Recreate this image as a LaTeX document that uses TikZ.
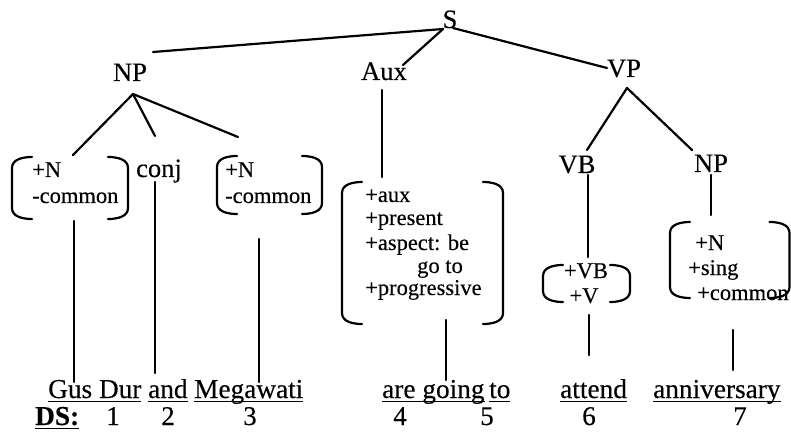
\documentclass[tikz,border=0pt]{standalone}
\usepackage{fontspec}
\setmainfont{Liberation Serif}[FakeBold=0.25]
\newcommand{\myul}[1]{\sbox0{#1}\rlap{\rule[-4pt]{\wd0}{1.4pt}}\usebox0}
\newcommand{\featbox}[5]{% name, left, right, top, bottom
  \draw[brk] (#2+20,#4) to[out=180,in=90] (#2,#4+11) -- (#2,#5-11) to[out=-90,in=180] (#2+20,#5);
  \draw[brk] (#3-20,#4) to[out=0,in=90] (#3,#4+11) -- (#3,#5-11) to[out=-90,in=0] (#3-20,#5);
  \coordinate (#1) at ({(#2+#3)/2},{(#4+#5)/2});
}
\tikzset{
  lab/.style={font=\fontsize{26.5}{30}\selectfont, inner sep=0pt, anchor=base},
  word/.style={font=\fontsize{27.3}{30}\selectfont, inner sep=0pt, anchor=base west},
  num/.style={font=\fontsize{27}{30}\selectfont, inner sep=0pt, anchor=base},
  feat/.style={font=\fontsize{22.5}{26}\selectfont, inner sep=0pt, anchor=base west},
  featc/.style={feat, anchor=base},
  branch/.style={line width=2.2pt, line cap=round},
  brk/.style={line width=2.2pt, line cap=round},
}
\begin{document}
\begin{tikzpicture}[x=1pt,y=-1pt]
\fill[white] (0,0) rectangle (791,438);
\useasboundingbox (0,0) rectangle (791,438);

% tree labels
\node[lab] (S) at (450,28) {S};
\node[lab] (NP) at (130,81) {NP};
\node[lab] (Aux) at (384,80) {Aux};
\node[lab] (VP) at (624,77) {VP};
\node[lab] (VB) at (577,173) {VB};
\node[lab] (NPb) at (711,172) {NP};
\node[lab] (conj) at (159,177) {conj};

% feature boxes
\featbox{boxA}{12}{128}{157}{219}
\node[feat] (fA1) at (32,177) {+N};
\node[feat] (fA2) at (32,203) {-common};

\featbox{boxB}{217}{322}{156}{214}
\node[feat] (fB1) at (225,177) {+N};
\node[feat] (fB2) at (225,203) {-common};

\featbox{boxC}{342}{503}{182}{324}
\node[feat] (fC1) at (365,202) {+aux};
\node[feat] (fC2) at (365,225) {+present};
\node[feat] (fC3) at (365,250) {+aspect: be};
\node[feat] (fC4) at (417,273) {go to};
\node[feat] (fC5) at (365,295) {+progressive};

\featbox{boxD}{543}{630}{265}{302}
\node[featc] (fD1) at (586,278) {+VB};
\node[featc] (fD2) at (584,303) {+V};

\featbox{boxE}{670}{789.5}{222}{298}
\node[feat] (fE1) at (695,250) {+N};
\node[feat] (fE2) at (688,275) {+sing};
\node[feat] (fE3) at (697,300) {+common};

% words
\node[word] (w1) at (48,398) {\myul{Gus Dur}};
\node[word] (w2) at (148,398) {\myul{and}};
\node[word] (w3) at (194,398) {\myul{Megawati}};
\node[word] (w4) at (382,398) {\myul{are going}};
\node[word] (w5) at (489,398) {\myul{to}};
\node[word] (w6) at (560,398) {\myul{attend}};
\node[word] (w7) at (653,398) {\myul{anniversary}};

% DS numbers
\node[word] (DS) at (35,425) {\myul{\bfseries DS:}};
\node[num] (n1) at (113,425) {1};
\node[num] (n2) at (168,425) {2};
\node[num] (n3) at (250,425) {3};
\node[num] (n4) at (400,425) {4};
\node[num] (n5) at (487,425) {5};
\node[num] (n6) at (589,425) {6};
\node[num] (n7) at (740,425) {7};

% connector end points
\coordinate (sL) at (443,29);
\coordinate (sR) at (453,28);
\coordinate (npTop) at (153,52);
\coordinate (auxTop) at (403,65);
\coordinate (vpTop) at (607,68);
\coordinate (npJ) at (133,94);
\coordinate (aBr) at (73,155);
\coordinate (cjTop) at (155,136);
\coordinate (bBr) at (238,137);
\coordinate (auxB) at (382,90);
\coordinate (cTop) at (382,177);
\coordinate (vpJ) at (627,88);
\coordinate (vbTop) at (587,150);
\coordinate (np2Top) at (692,150);
\coordinate (vbB) at (588,175);
\coordinate (dTop) at (588,257);
\coordinate (np2B) at (711,175);
\coordinate (eTop) at (711,215);
\coordinate (aBot) at (74,221);
\coordinate (w1Top) at (74,382);
\coordinate (cjB) at (155,182);
\coordinate (w2Top) at (155,373);
\coordinate (bBot) at (259,239);
\coordinate (w3Top) at (259,382);
\coordinate (cBot) at (446,320);
\coordinate (w4Top) at (446,380);
\coordinate (dBot) at (589,315);
\coordinate (w6Top) at (589,355);
\coordinate (eBot) at (733,330);
\coordinate (w7Top) at (733,370);

\draw[branch] (sL) -- (npTop);
\draw[branch] (sL) -- (auxTop);
\draw[branch] (sR) -- (vpTop);
\draw[branch] (npJ) -- (aBr);
\draw[branch] (npJ) -- (cjTop);
\draw[branch] (npJ) -- (bBr);
\draw[branch] (auxB) -- (cTop);
\draw[branch] (vpJ) -- (vbTop);
\draw[branch] (vpJ) -- (np2Top);
\draw[branch] (vbB) -- (dTop);
\draw[branch] (np2B) -- (eTop);
\draw[branch] (aBot) -- (w1Top);
\draw[branch] (cjB) -- (w2Top);
\draw[branch] (bBot) -- (w3Top);
\draw[branch] (cBot) -- (w4Top);
\draw[branch] (dBot) -- (w6Top);
\draw[branch] (eBot) -- (w7Top);
\end{tikzpicture}
\end{document}
